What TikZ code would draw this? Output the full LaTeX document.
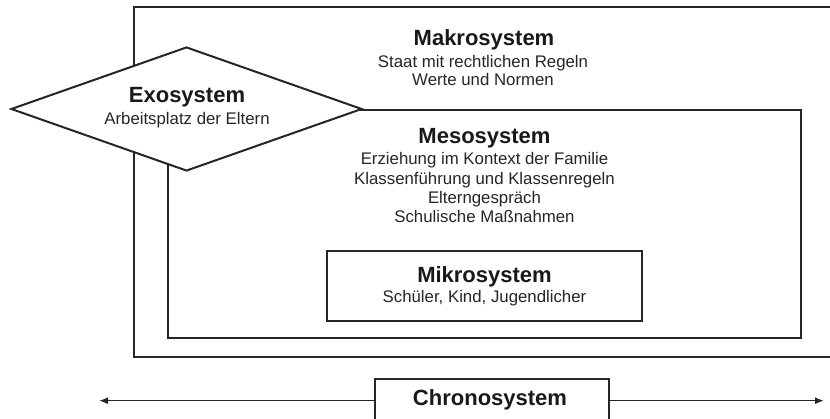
\documentclass[tikz,border=0pt]{standalone}
\usepackage{fontspec}
\setmainfont{Liberation Sans}
\usetikzlibrary{shapes.geometric,arrows.meta}
\tikzset{
  ttl/.style={font=\fontsize{22}{26}\selectfont\bfseries, anchor=base, text=black!90, inner sep=0pt},
  sub/.style={font=\fontsize{16.8}{20}\selectfont, anchor=base, text=black!85, inner sep=0pt},
  sysbox/.style={draw=black!85, line width=2pt, rectangle, inner sep=0pt, fill=white},
  exobox/.style={draw=black!85, line width=2pt, diamond, inner sep=0pt, fill=white},
  timearrow/.style={draw=black!85, line width=1.6pt, -{Latex[length=9pt,width=7pt]}}
}
\begin{document}
\begin{tikzpicture}[x=1pt,y=-1pt]
\useasboundingbox (0,0) rectangle (830,419);
\clip (0,0) rectangle (830,419);
\fill[white] (0,0) rectangle (830,419);
% boxes
\node[sysbox, minimum width=700pt, minimum height=350pt] (makro) at (484,182) {};
\node[sysbox, minimum width=633pt, minimum height=228pt] (meso) at (484.5,224) {};
\node[sysbox, minimum width=315pt, minimum height=70pt] (mikro) at (484.5,286) {};
\node[exobox, minimum width=351pt, minimum height=124pt] (exo) at (186.5,109) {};
\node[sysbox, minimum width=234pt, minimum height=42pt] (chrono) at (492,400) {};
% texts
\node[ttl] (makroT) at (484,46) {Makrosystem};
\node[sub] (makroA) at (483,67.3) {Staat mit rechtlichen Regeln};
\node[sub] (makroB) at (483,86) {Werte und Normen};
\node[ttl] (mesoT) at (484.5,144) {Mesosystem};
\node[sub] (mesoA) at (484.5,165) {Erziehung im Kontext der Familie};
\node[sub] (mesoB) at (484.5,184.3) {Klassenführung und Klassenregeln};
\node[sub] (mesoC) at (484.5,203.3) {Elterngespräch};
\node[sub] (mesoD) at (484.5,223) {Schulische Maßnahmen};
\node[ttl] (mikroT) at (484.5,282.3) {Mikrosystem};
\node[sub] (mikroA) at (484.5,302.3) {Schüler, Kind, Jugendlicher};
\node[ttl] (exoT) at (187,102.7) {Exosystem};
\node[sub] (exoA) at (187,124.3) {Arbeitsplatz der Eltern};
\node[ttl] (chronoT) at (490,405.7) {Chronosystem};
% time arrows
\coordinate (tl) at (99,400.7);
\coordinate (tr) at (824,400.7);
\draw[timearrow] (chrono.west |- tl) -- (tl);
\draw[timearrow] (chrono.east |- tr) -- (tr);
\end{tikzpicture}
\end{document}
